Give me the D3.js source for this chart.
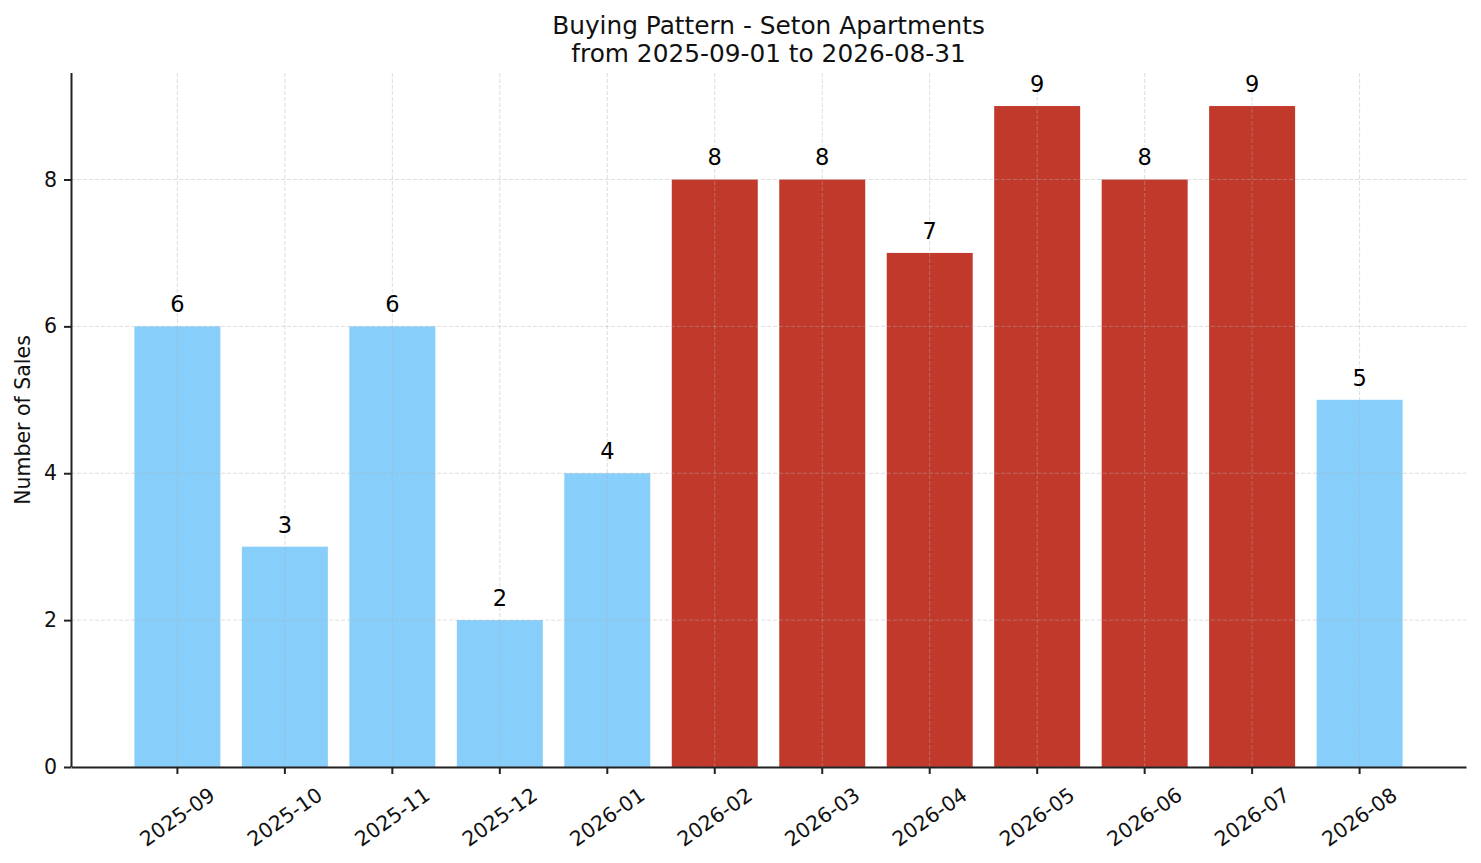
<!DOCTYPE html>
<html>
<head>
<meta charset="utf-8">
<script src="https://cdn.jsdelivr.net/npm/d3@7"></script>
<style>
  html, body { margin: 0; padding: 0; background: #fff; }
  svg { display: block; font-family: "DejaVu Sans", sans-serif; }
</style>
</head>
<body>
<svg id="chart" width="1481" height="863"></svg>
<script>
// data
const months = ['2025-09', '2025-10', '2025-11', '2025-12', '2026-01', '2026-02',
                '2026-03', '2026-04', '2026-05', '2026-06', '2026-07', '2026-08'];
const sales = [6, 3, 6, 2, 4, 8, 8, 7, 9, 8, 9, 5];
const yTicks = [0, 2, 4, 6, 8];
const titleLines = ['Buying Pattern - Seton Apartments', 'from 2025-09-01 to 2026-08-31'];
const peakThreshold = 7;

const data = months.map((m, i) => ({ month: m, value: sales[i] }));

const svg = d3.select('#chart');
const margin = { top: 73, right: 15, bottom: 96, left: 71 };
const width = 1481, height = 863;
const plotW = width - margin.left - margin.right;
const plotH = height - margin.top - margin.bottom;

const x = d3.scaleBand()
  .domain(months)
  .range([0, plotW])
  .paddingInner(0.2)
  .paddingOuter(0.59);

const y = d3.scaleLinear()
  .domain([0, d3.max(sales) * 1.05])
  .range([plotH, 0]);

const color = v => v >= peakThreshold ? '#c0392b' : '#87cefa';

const g = svg.append('g')
  .attr('transform', 'translate(' + margin.left + ',' + margin.top + ')');

// bars
g.append('g')
  .selectAll('rect')
  .data(data)
  .enter().append('rect')
    .attr('x', d => x(d.month))
    .attr('y', d => y(d.value))
    .attr('width', x.bandwidth())
    .attr('height', d => plotH - y(d.value))
    .attr('fill', d => color(d.value));

// grid on top of the bars, like the original
const grid = g.append('g')
  .attr('stroke', '#b0b0b0')
  .attr('stroke-opacity', 0.55)
  .attr('stroke-width', 0.8)
  .attr('stroke-dasharray', '4,2');

grid.selectAll('line.h')
  .data(yTicks)
  .enter().append('line')
    .attr('class', 'h')
    .attr('x1', 0).attr('x2', plotW)
    .attr('y1', d => y(d)).attr('y2', d => y(d));

grid.selectAll('line.v')
  .data(months)
  .enter().append('line')
    .attr('class', 'v')
    .attr('x1', d => x(d) + x.bandwidth() / 2)
    .attr('x2', d => x(d) + x.bandwidth() / 2)
    .attr('y1', 0).attr('y2', plotH);

// value labels
g.append('g')
  .selectAll('text')
  .data(data)
  .enter().append('text')
    .attr('x', d => x(d.month) + x.bandwidth() / 2)
    .attr('y', d => y(d.value) - 14)
    .attr('text-anchor', 'middle')
    .attr('font-size', 22.5)
    .attr('fill', '#000')
    .text(d => d.value);

// y axis
const yAxis = g.append('g')
  .call(d3.axisLeft(y).tickValues(yTicks).tickFormat(d3.format('d'))
    .tickSize(7).tickPadding(7));

// x axis
const xAxis = g.append('g')
  .attr('transform', 'translate(0,' + plotH + ')')
  .call(d3.axisBottom(x).tickSize(7).tickPadding(7).tickSizeOuter(0));

[yAxis, xAxis].forEach(ax => {
  ax.select('.domain').attr('stroke', '#222').attr('stroke-width', 2);
  ax.selectAll('.tick line').attr('stroke', '#222').attr('stroke-width', 2);
  ax.selectAll('.tick text')
    .attr('fill', '#111')
    .attr('font-size', 20.5)
    .attr('font-family', '"DejaVu Sans", sans-serif');
});
yAxis.select('.domain').attr('d', 'M0.5,' + plotH + 'V0');

xAxis.selectAll('.tick text')
  .attr('y', null)
  .attr('dy', null)
  .attr('text-anchor', 'middle')
  .attr('dominant-baseline', 'central')
  .attr('transform', 'translate(0,50) rotate(-35)');

// axis label
svg.append('text')
  .attr('transform', 'translate(23,' + (margin.top + plotH / 2) + ') rotate(-90)')
  .attr('text-anchor', 'middle')
  .attr('dominant-baseline', 'central')
  .attr('font-size', 20.5)
  .attr('fill', '#111')
  .text('Number of Sales');

// title
svg.append('g')
  .selectAll('text')
  .data(titleLines)
  .enter().append('text')
    .attr('x', margin.left + plotW / 2)
    .attr('y', (d, i) => 34 + i * 28)
    .attr('text-anchor', 'middle')
    .attr('font-size', 24.8)
    .attr('fill', '#111')
    .text(d => d);
</script>
</body>
</html>
